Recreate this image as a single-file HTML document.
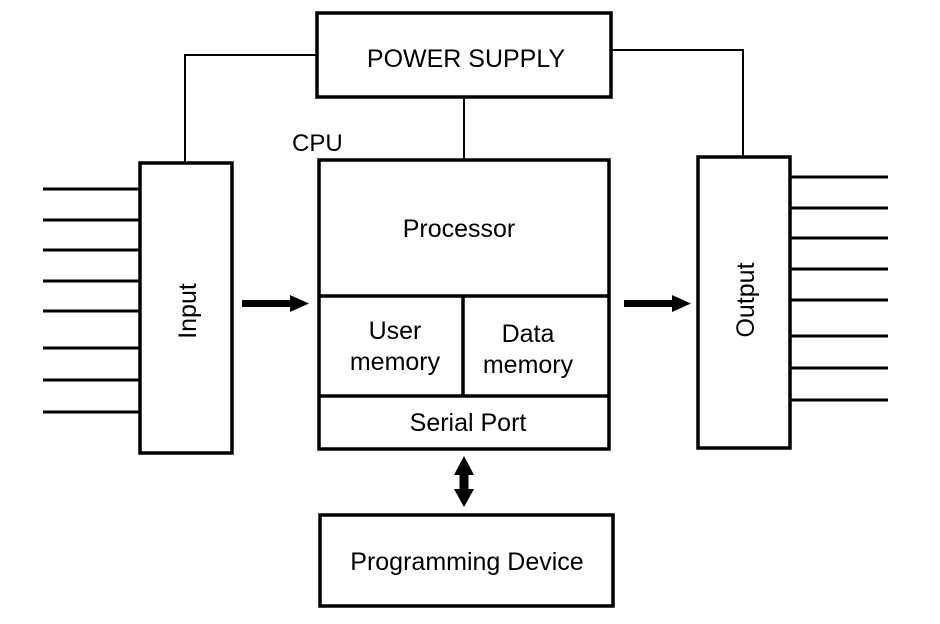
<!DOCTYPE html>
<html><head><meta charset="utf-8"><style>
html,body{margin:0;padding:0;background:#fff;}
svg{display:block;}
text{font-family:"Liberation Sans",Arial,sans-serif;fill:#000;}
</style></head><body>
<svg width="940" height="624" viewBox="0 0 940 624" xmlns="http://www.w3.org/2000/svg">
<g fill="none" stroke="#000" stroke-width="3.5">
<rect x="317" y="13" width="294" height="84"/>
<rect x="140" y="163" width="92" height="290"/>
<rect x="319" y="160" width="290" height="289"/>
<line x1="319" y1="296" x2="609" y2="296"/>
<line x1="319" y1="396" x2="609" y2="396"/>
<line x1="463" y1="296" x2="463" y2="396"/>
<rect x="698" y="157" width="92" height="291"/>
<rect x="320" y="515" width="293" height="91"/>
</g>
<g fill="none" stroke="#000" stroke-width="2">
<polyline points="185,163 185,55 317,55"/>
<polyline points="611,50 743,50 743,157"/>
<line x1="464" y1="97" x2="464" y2="160"/>
</g>
<g stroke="#000" stroke-width="3">
<line x1="43" y1="189" x2="140" y2="189"/>
<line x1="43" y1="220" x2="140" y2="220"/>
<line x1="43" y1="250" x2="140" y2="250"/>
<line x1="43" y1="281" x2="140" y2="281"/>
<line x1="43" y1="311" x2="140" y2="311"/>
<line x1="43" y1="348" x2="140" y2="348"/>
<line x1="43" y1="380" x2="140" y2="380"/>
<line x1="43" y1="412" x2="140" y2="412"/>
<line x1="790" y1="177" x2="888" y2="177"/>
<line x1="790" y1="208" x2="888" y2="208"/>
<line x1="790" y1="238" x2="888" y2="238"/>
<line x1="790" y1="269" x2="888" y2="269"/>
<line x1="790" y1="300" x2="888" y2="300"/>
<line x1="790" y1="336" x2="888" y2="336"/>
<line x1="790" y1="368" x2="888" y2="368"/>
<line x1="790" y1="400" x2="888" y2="400"/>
</g>
<g fill="#000" stroke="none">
<rect x="242" y="300" width="50" height="7"/>
<polygon points="290,295 309,303.5 290,312"/>
<rect x="624" y="300" width="50" height="7"/>
<polygon points="672,295 691,303.5 672,312"/>
<rect x="459.5" y="470" width="9" height="24"/>
<polygon points="454,475 464,456 474,475"/>
<polygon points="454,489 464,507 474,489"/>
</g>
<text x="466" y="67" font-size="25" text-anchor="middle">POWER SUPPLY</text>
<text x="292" y="151" font-size="24">CPU</text>
<text x="459" y="237" font-size="25" text-anchor="middle">Processor</text>
<text x="395" y="339" font-size="25" text-anchor="middle">User</text>
<text x="395" y="370" font-size="25" text-anchor="middle">memory</text>
<text x="528" y="342" font-size="25" text-anchor="middle">Data</text>
<text x="528" y="373" font-size="25" text-anchor="middle">memory</text>
<text x="468" y="431" font-size="25" text-anchor="middle">Serial Port</text>
<text x="467" y="570" font-size="25" text-anchor="middle">Programming Device</text>
<text transform="translate(196,311) rotate(-90)" font-size="25" text-anchor="middle">Input</text>
<text transform="translate(754,300) rotate(-90)" font-size="25" text-anchor="middle">Output</text>
</svg>
</body></html>
